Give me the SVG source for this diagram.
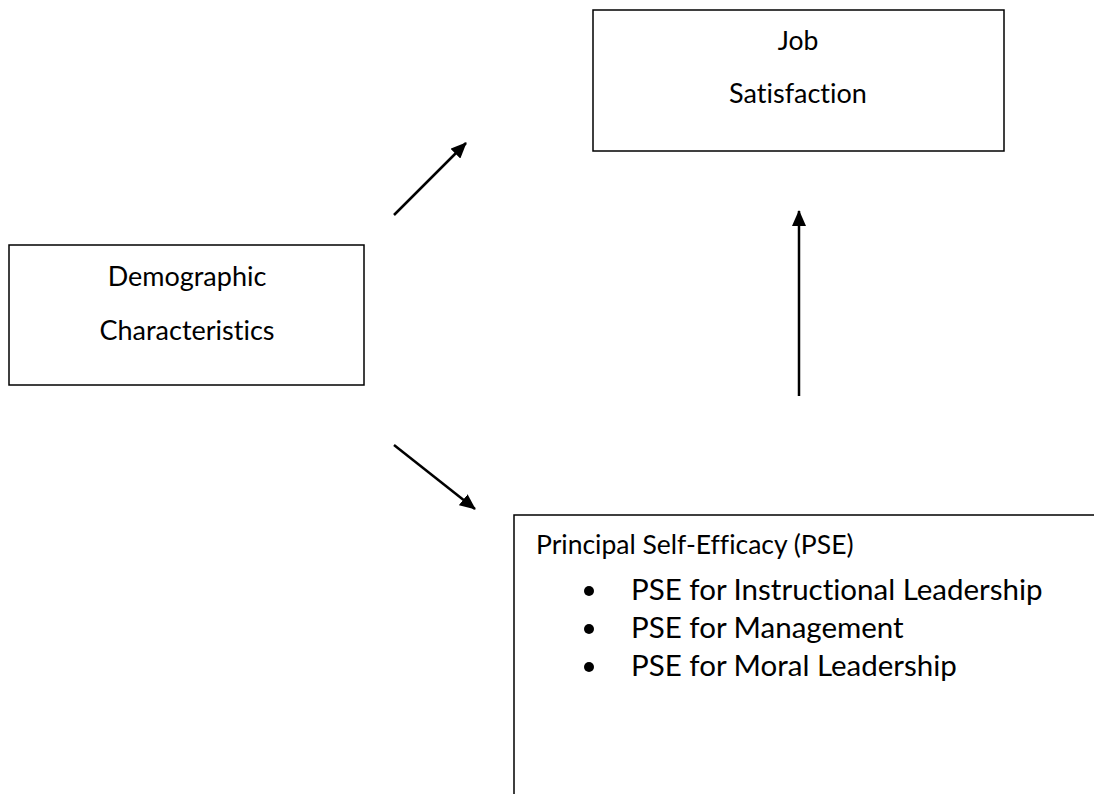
<svg xmlns="http://www.w3.org/2000/svg" width="1094" height="794" viewBox="0 0 1094 794">
  <style>
    .box { fill: #ffffff; stroke: #000000; stroke-width: 1.5; }
    .label { font-family: Lato, "Liberation Sans", sans-serif; fill: #000000; font-variant-ligatures: none; font-feature-settings: "liga" 0, "dlig" 0; }
    .conn { stroke: #000000; stroke-width: 2.5; fill: none; }
  </style>
  <defs>
    <marker id="arrow" viewBox="0 0 16 14" refX="15" refY="7" markerWidth="16" markerHeight="14" markerUnits="userSpaceOnUse" orient="auto">
      <polygon points="0,0 16,7 0,14" fill="#000000"/>
    </marker>
  </defs>
  <rect width="1094" height="794" fill="#ffffff"/>
  <g id="job-satisfaction">
    <rect class="box" x="593" y="10" width="411" height="141"/>
    <text class="label" x="798" y="50" font-size="26.5" text-anchor="middle">Job</text>
    <text class="label" x="798" y="103" font-size="27" text-anchor="middle">Satisfaction</text>
  </g>
  <g id="demographic-characteristics">
    <rect class="box" x="9" y="245" width="355" height="140"/>
    <text class="label" x="187" y="286" font-size="27" text-anchor="middle">Demographic</text>
    <text class="label" x="187" y="340" font-size="27" text-anchor="middle">Characteristics</text>
  </g>
  <g id="principal-self-efficacy">
    <path class="box" d="M1094,515 H514 V794" fill="none"/>
    <text class="label" x="536" y="554" font-size="26.5">Principal Self-Efficacy (PSE)</text>
    <circle cx="589" cy="591" r="5" fill="#000000"/>
    <circle cx="589" cy="629" r="5" fill="#000000"/>
    <circle cx="589" cy="667" r="5" fill="#000000"/>
    <text class="label" x="631" y="600" font-size="29.5">PSE for Instructional Leadership</text>
    <text class="label" x="631" y="638" font-size="29.5">PSE for Management</text>
    <text class="label" x="631" y="676" font-size="29.5">PSE for Moral Leadership</text>
  </g>
  <g id="connectors">
    <line class="conn" x1="394" y1="215" x2="466" y2="143" marker-end="url(#arrow)"/>
    <line class="conn" x1="394" y1="445" x2="475" y2="509" marker-end="url(#arrow)"/>
    <line class="conn" x1="799" y1="396" x2="799" y2="211" marker-end="url(#arrow)"/>
  </g>
</svg>
